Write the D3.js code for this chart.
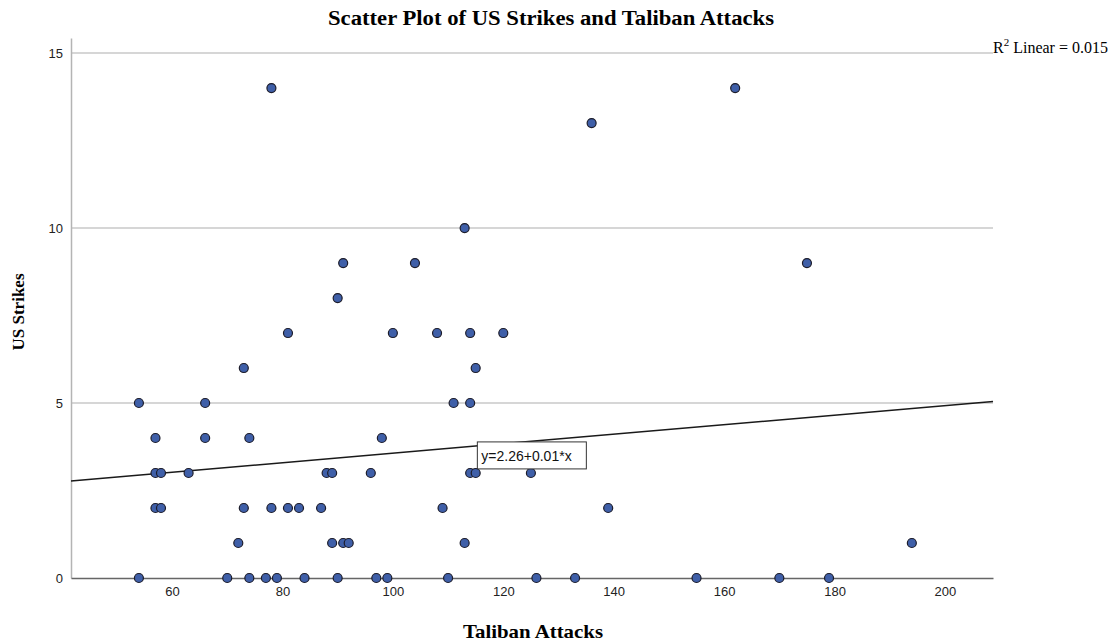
<!DOCTYPE html>
<html>
<head>
<meta charset="utf-8">
<script src="https://cdn.jsdelivr.net/npm/d3@7"></script>
<style>
    body { margin: 0; background: #fff; }
    svg { display: block; }
</style>
</head>
<body>
<div id="chart"></div>
<script>
// Taliban Attacks (x) and US Strikes (y), one entry per case
var attacks = [
    54, 70, 74, 77, 79, 84, 90, 97, 99, 110, 126, 133, 155, 170, 179,
    72, 89, 91, 92, 113, 194,
    57, 58, 73, 78, 81, 83, 87, 109, 139,
    57, 58, 63, 88, 89, 96, 114, 115, 125,
    57, 66, 74, 98,
    54, 66, 111, 114,
    73, 115,
    81, 100, 108, 114, 120,
    90,
    91, 104, 175,
    113,
    136,
    78, 162
];
var strikes = [
    0, 0, 0, 0, 0, 0, 0, 0, 0, 0, 0, 0, 0, 0, 0,
    1, 1, 1, 1, 1, 1,
    2, 2, 2, 2, 2, 2, 2, 2, 2,
    3, 3, 3, 3, 3, 3, 3, 3, 3,
    4, 4, 4, 4,
    5, 5, 5, 5,
    6, 6,
    7, 7, 7, 7, 7,
    8,
    9, 9, 9,
    10,
    13,
    14, 14
];
var xTicks = [60, 80, 100, 120, 140, 160, 180, 200];
var yTicks = [0, 5, 10, 15];
var xDomain = [41.7, 208.7];
var yDomain = [0, 15.43];
var fitLabel = "y=2.26+0.01*x";
var r2Label = "Linear = 0.015";

var width = 1117, height = 643;
var margin = { top: 38, right: 124, bottom: 65, left: 71 };
var innerW = width - margin.left - margin.right,
    innerH = height - margin.top - margin.bottom;

var svg = d3.select("#chart")
    .append("svg")
    .attr("width", width)
    .attr("height", height);

var g = svg.append("g")
    .attr("transform", "translate(" + margin.left + "," + margin.top + ")");

var x = d3.scaleLinear().domain(xDomain).range([0, innerW]);
var y = d3.scaleLinear().domain(yDomain).range([innerH, 0]);

// grid lines
g.selectAll("line.grid")
    .data(yTicks.filter(function (d) { return d > 0; }))
    .enter()
    .append("line")
    .attr("class", "grid")
    .attr("x1", 0)
    .attr("x2", innerW)
    .attr("y1", function (d) { return y(d); })
    .attr("y2", function (d) { return y(d); })
    .attr("stroke", "#c8c8c8")
    .attr("stroke-width", 1.5);

// y axis
var yAxis = g.append("g")
    .call(d3.axisLeft(y).tickValues(yTicks).tickSize(0).tickPadding(8));
yAxis.select(".domain").attr("stroke", "#b4b4b4").attr("stroke-width", 1.5);
yAxis.selectAll("text")
    .attr("fill", "#222")
    .style("font-family", "'Liberation Sans', Arial, sans-serif")
    .style("font-size", "13px");

// x axis
var xAxis = g.append("g")
    .attr("transform", "translate(0," + innerH + ")")
    .call(d3.axisBottom(x).tickValues(xTicks).tickSize(0).tickPadding(9));
xAxis.select(".domain").attr("stroke", "#666").attr("stroke-width", 1.5);
xAxis.selectAll("text")
    .attr("fill", "#222")
    .style("font-family", "'Liberation Sans', Arial, sans-serif")
    .style("font-size", "13px");

// least squares fit line
var n = attacks.length;
var mx = d3.mean(attacks), my = d3.mean(strikes);
var sxy = 0, sxx = 0;
for (var i = 0; i < n; i++) {
    sxy += (attacks[i] - mx) * (strikes[i] - my);
    sxx += (attacks[i] - mx) * (attacks[i] - mx);
}
var slope = sxy / sxx, intercept = my - slope * mx;

g.append("line")
    .attr("x1", x(xDomain[0]))
    .attr("y1", y(intercept + slope * xDomain[0]))
    .attr("x2", x(xDomain[1]))
    .attr("y2", y(intercept + slope * xDomain[1]))
    .attr("stroke", "#1a1a1a")
    .attr("stroke-width", 1.5);

// points
g.selectAll("circle")
    .data(attacks)
    .enter()
    .append("circle")
    .attr("cx", function (d) { return x(d); })
    .attr("cy", function (d, i) { return y(strikes[i]); })
    .attr("r", 4.5)
    .attr("fill", "#3f5fa8")
    .attr("stroke", "#1c1c2a")
    .attr("stroke-width", 1.2);

// equation box
var labX = 115.3;
var bx = x(labX), by = y(intercept + slope * labX) - 4;
var box = g.append("g").attr("transform", "translate(" + bx + "," + by + ")");
box.append("rect")
    .attr("width", 109)
    .attr("height", 27)
    .attr("fill", "#fff")
    .attr("stroke", "#333")
    .attr("stroke-width", 1);
box.append("text")
    .attr("x", 4)
    .attr("y", 19)
    .attr("fill", "#111")
    .style("font-family", "'Liberation Sans', Arial, sans-serif")
    .style("font-size", "14px")
    .text(fitLabel);

// title
svg.append("text")
    .attr("x", 551)
    .attr("y", 25)
    .attr("text-anchor", "middle")
    .attr("textLength", 446)
    .attr("lengthAdjust", "spacingAndGlyphs")
    .style("font-family", "'Liberation Serif', 'Times New Roman', serif")
    .style("font-weight", "bold")
    .style("font-size", "20px")
    .text("Scatter Plot of US Strikes and Taliban Attacks");

// R squared
var r2 = svg.append("text")
    .attr("x", 993)
    .attr("y", 53)
    .style("font-family", "'Liberation Serif', 'Times New Roman', serif")
    .style("font-size", "16px");
r2.append("tspan").text("R");
r2.append("tspan").attr("dy", -7).style("font-size", "11px").text("2");
r2.append("tspan").attr("dy", 7).text(" " + r2Label);

// axis titles
svg.append("text")
    .attr("x", 533)
    .attr("y", 638)
    .attr("text-anchor", "middle")
    .attr("textLength", 140)
    .attr("lengthAdjust", "spacingAndGlyphs")
    .style("font-family", "'Liberation Serif', 'Times New Roman', serif")
    .style("font-weight", "bold")
    .style("font-size", "19px")
    .text("Taliban Attacks");

svg.append("text")
    .attr("transform", "translate(24,312) rotate(-90)")
    .attr("text-anchor", "middle")
    .style("font-family", "'Liberation Serif', 'Times New Roman', serif")
    .style("font-weight", "bold")
    .style("font-size", "17px")
    .text("US Strikes");
</script>
</body>
</html>
